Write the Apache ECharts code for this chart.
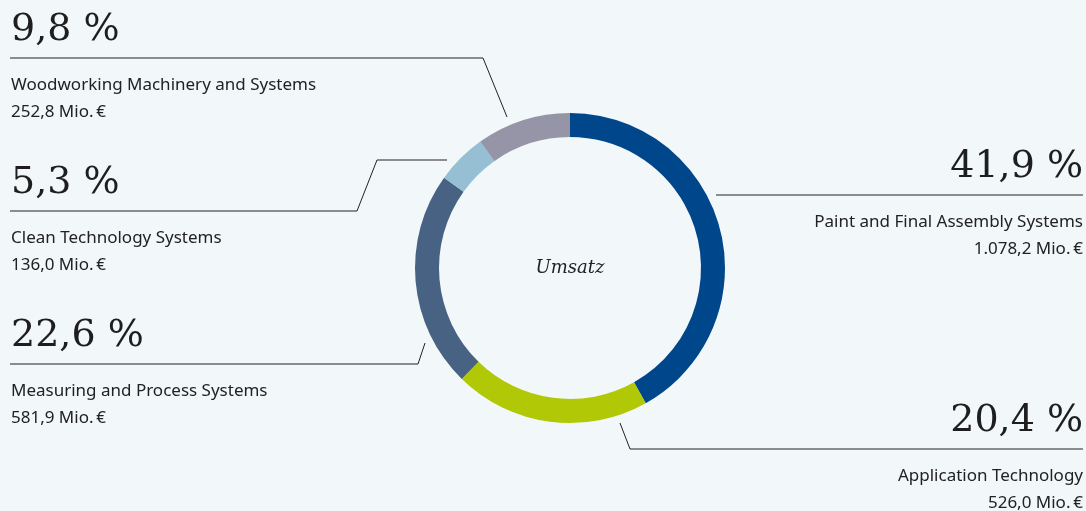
<!DOCTYPE html>
<html><head><meta charset="utf-8">
<script src="https://cdn.jsdelivr.net/npm/echarts@6/dist/echarts.min.js"></script>
<style>html,body{margin:0;padding:0;background:#f2f7fa}#c{width:1086px;height:511px}</style>
</head><body><div id="c"></div>
<script>
// ---- data ----
const segments = ['Paint and Final Assembly Systems', 'Application Technology', 'Measuring and Process Systems', 'Clean Technology Systems', 'Woodworking Machinery and Systems'];
const revenue = [1078.2, 526.0, 581.9, 136.0, 252.8];
const segmentColors = ['#00468b', '#b1c806', '#476282', '#96bfd4', '#9695a7'];
const centerLabel = 'Umsatz';
const unit = 'Mio.\u202F€';

// ---- layout (label anchors and leader lines, in px) ----
const placement = [
  { x: 1083, align: 'right', lineY: 195, line: [[716, 195], [1083, 195]] },
  { x: 1083, align: 'right', lineY: 449, line: [[620, 423], [630, 449], [1083, 449]] },
  { x: 11, align: 'left', lineY: 364, line: [[425, 343], [418, 364], [10, 364]] },
  { x: 11, align: 'left', lineY: 211, line: [[447, 160], [377, 160], [357, 211], [10, 211]] },
  { x: 11, align: 'left', lineY: 58, line: [[507, 117], [483, 58], [10, 58]] }
];

const total = revenue.reduce((a, b) => a + b, 0);
function deNum(v) {
  const parts = v.toFixed(1).split('.');
  return parts[0].replace(/\B(?=(\d{3})+(?!\d))/g, '.') + ',' + parts[1];
}
function pct(v) { return (v / total * 100).toFixed(1).replace('.', ',') + ' %'; }

const chart = echarts.init(document.getElementById('c'), null, { renderer: 'canvas' });
chart.setOption({
  backgroundColor: '#f2f7fa',
  animation: false,
  graphic: [{
    type: 'text', x: 570, y: 268,
    style: { text: centerLabel, font: 'italic 18px "DejaVu Serif"', fill: '#222', textAlign: 'center', textVerticalAlign: 'middle', align: 'center', verticalAlign: 'middle' }
  }],
  series: [{
    type: 'pie',
    center: [570, 268],
    radius: [131, 155],
    startAngle: 90,
    clockwise: true,
    avoidLabelOverlap: false,
    silent: true,
    itemStyle: { borderWidth: 0 },
    data: segments.map((s, i) => ({ name: s, value: revenue[i], itemStyle: { color: segmentColors[i] } })),
    label: {
      show: true,
      position: 'outside',
      formatter: p => '{p|' + pct(p.value) + '}\n{s| }\n{n|' + p.name + '}\n{v|' + deNum(p.value) + ' ' + unit + '}',
      rich: {
        p: { fontFamily: 'DejaVu Serif', fontSize: 38, lineHeight: 50, color: '#1e1e1e' },
        s: { fontSize: 10, lineHeight: 17 },
        n: { fontFamily: 'Noto Sans', fontSize: 17, lineHeight: 27, color: '#222' },
        v: { fontFamily: 'Noto Sans', fontSize: 17, lineHeight: 26, color: '#222' }
      }
    },
    labelLine: { show: true, smooth: false, lineStyle: { color: '#222', width: 1 } },
    labelLayout: function (params) {
      const pl = placement[params.dataIndex];
      return { x: pl.x, y: pl.lineY - 53, align: pl.align, verticalAlign: 'top', labelLinePoints: pl.line };
    }
  }]
});
</script></body></html>
